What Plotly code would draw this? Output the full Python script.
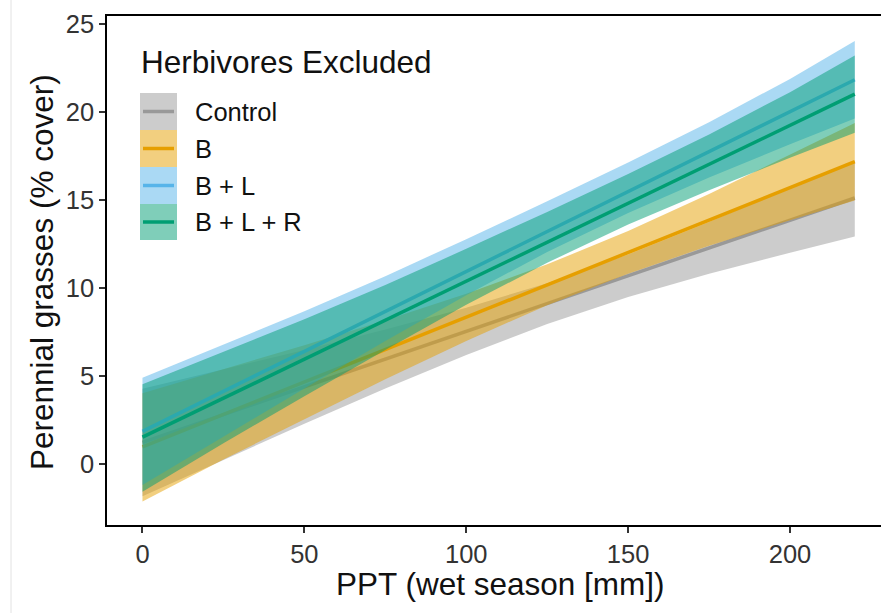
import plotly.graph_objects as go

# ---- data ----
ppt = [0, 25, 50, 75, 100, 125, 150, 175, 200, 220]

groups = ["Control", "B", "B + L", "B + L + R"]

control_fit = [1.2, 2.78, 4.36, 5.94, 7.51, 9.09, 10.67, 12.25, 13.83, 15.09]
control_lo = [-1.85, 0.22, 2.26, 4.26, 6.17, 7.93, 9.46, 10.78, 11.98, 12.9]
control_hi = [4.25, 5.34, 6.46, 7.62, 8.85, 10.25, 11.88, 13.72, 15.68, 17.2]

b_fit = [0.95, 2.79, 4.63, 6.47, 8.31, 10.16, 12.0, 13.84, 15.68, 17.15]
b_lo = [-2.15, 0.23, 2.53, 4.79, 6.97, 9.0, 10.79, 12.37, 13.83, 14.95]
b_hi = [4.0, 5.35, 6.73, 8.15, 9.65, 11.32, 13.21, 15.31, 17.53, 19.35]

bl_fit = [1.83, 4.10, 6.37, 8.64, 10.91, 13.18, 15.45, 17.72, 19.99, 21.81]
bl_lo = [-1.22, 1.54, 4.27, 6.96, 9.57, 12.02, 14.24, 16.25, 18.14, 19.61]
bl_hi = [4.88, 6.75, 8.65, 10.65, 12.75, 14.9, 17.1, 19.4, 21.85, 24.01]

blr_fit = [1.5, 3.71, 5.93, 8.14, 10.36, 12.57, 14.79, 17.0, 19.22, 20.99]
blr_lo = [-1.6, 1.15, 3.83, 6.46, 9.02, 11.41, 13.58, 15.53, 17.37, 18.79]
blr_hi = [4.5, 6.35, 8.2, 10.15, 12.2, 14.3, 16.45, 18.7, 21.1, 23.19]

x_ticks = [0, 50, 100, 150, 200]
y_ticks = [0, 5, 10, 15, 20, 25]

line_colors = ["#999999", "#E69F00", "#56B4E9", "#009E73"]
fill_colors = ["rgba(153,153,153,0.5)", "rgba(230,159,0,0.5)",
               "rgba(86,180,233,0.5)", "rgba(0,158,115,0.5)"]

series = [
    (control_fit, control_lo, control_hi),
    (b_fit, b_lo, b_hi),
    (bl_fit, bl_lo, bl_hi),
    (blr_fit, blr_lo, blr_hi),
]

FONT = "Liberation Sans, Arial, sans-serif"

fig = go.Figure()
for name, (fit, lo, hi), lc, fc in zip(groups, series, line_colors, fill_colors):
    fig.add_trace(go.Scatter(
        x=ppt + ppt[::-1], y=hi + lo[::-1], mode="lines", fill="toself",
        fillcolor=fc, line=dict(width=0), hoverinfo="skip", showlegend=False))
    fig.add_trace(go.Scatter(
        x=ppt, y=fit, mode="lines", name=name,
        line=dict(color=lc, width=3.5), showlegend=False))

W, H = 881, 613
L, R, T, B = 107, 0, 16, 88
pw, ph = W - L - R, H - T - B


def px(xp):
    return (xp - L) / pw


def py(yp):
    return (H - B - yp) / ph


shapes = []
annotations = []
# legend (manual, ggplot style keys)
key_x0, key_x1 = 140, 177
rows = [(93, 130), (130, 167), (167, 204), (204, 240)]
for name, (y0, y1), lc, fc in zip(groups, rows, line_colors, fill_colors):
    shapes.append(dict(type="rect", xref="paper", yref="paper",
                       x0=px(key_x0), x1=px(key_x1), y0=py(y1), y1=py(y0),
                       fillcolor=fc, line=dict(width=0), layer="above"))
    yc = (y0 + y1) / 2
    shapes.append(dict(type="line", xref="paper", yref="paper",
                       x0=px(143), x1=px(174), y0=py(yc), y1=py(yc),
                       line=dict(color=lc, width=3.5), layer="above"))
    annotations.append(dict(text=name, xref="paper", yref="paper",
                            x=px(193), y=py(yc), xanchor="left", yanchor="middle",
                            showarrow=False, font=dict(size=25.5, color="#111", family=FONT)))
annotations.append(dict(text="Herbivores Excluded", xref="paper", yref="paper",
                        x=px(139), y=py(62), xanchor="left", yanchor="middle",
                        showarrow=False, font=dict(size=31.5, color="#111", family=FONT)))
# axis titles
annotations.append(dict(text="PPT (wet season [mm])", xref="paper", yref="paper",
                        x=px(500), y=py(584), xanchor="center", yanchor="middle",
                        showarrow=False, font=dict(size=31.5, color="#111", family=FONT)))
annotations.append(dict(text="Perennial grasses (% cover)", xref="paper", yref="paper",
                        x=px(42), y=py(272), xanchor="center", yanchor="middle",
                        textangle=-90, showarrow=False,
                        font=dict(size=31.5, color="#111", family=FONT)))
# faint screenshot edge line on the left
shapes.append(dict(type="line", xref="paper", yref="paper",
                   x0=px(11), x1=px(11), y0=py(0), y1=py(H),
                   line=dict(color="#e2e2e2", width=1)))

fig.update_layout(
    width=W, height=H,
    margin=dict(l=L, r=R, t=T, b=B, pad=0),
    paper_bgcolor="white", plot_bgcolor="white",
    shapes=shapes, annotations=annotations,
    showlegend=False,
    font=dict(family=FONT),
)
fig.update_xaxes(
    range=[-10.96, 228.1], tickvals=x_ticks, ticktext=[str(v) for v in x_ticks],
    showgrid=False, zeroline=False, showline=True, linecolor="black", linewidth=1.6,
    mirror=True, ticks="outside", ticklen=6, tickwidth=1.5, tickcolor="#333",
    tickfont=dict(size=25.5, color="#333", family=FONT),
)
fig.update_yaxes(
    range=[-3.49, 25.43], tickvals=y_ticks, ticktext=[str(v) for v in y_ticks],
    showgrid=False, zeroline=False, showline=True, linecolor="black", linewidth=1.6,
    mirror=False, ticks="outside", ticklen=6, tickwidth=1.5, tickcolor="#333",
    tickfont=dict(size=25.5, color="#333", family=FONT),
)

fig.write_html("out.html")
